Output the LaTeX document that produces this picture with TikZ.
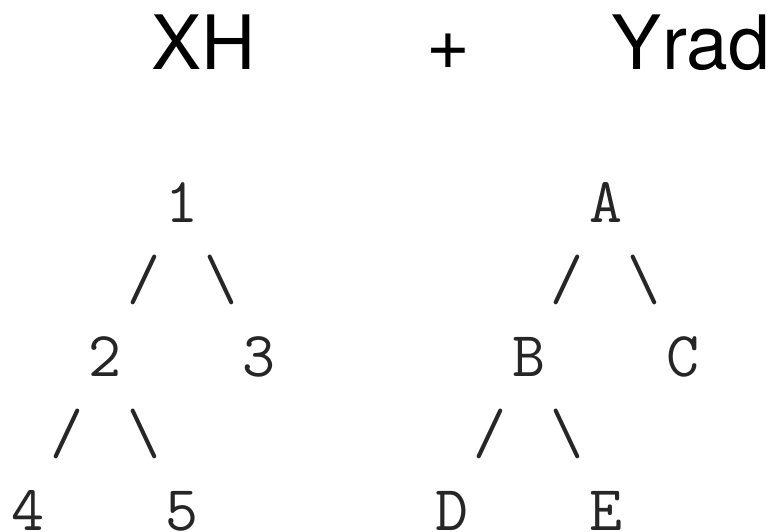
\documentclass[tikz,border=0pt]{standalone}
\usepackage{fontspec}
\setmainfont{TeX Gyre Heros}
\usetikzlibrary{matrix}
\definecolor{treeink}{RGB}{38,38,38}
\newcommand{\treebs}{\textbackslash}

\begin{document}
\begin{tikzpicture}[x=1pt,y=-1pt]
  \useasboundingbox (0,0) rectangle (771,532);
  \tikzset{head/.style={anchor=base, inner sep=0pt, font=\fontsize{75}{80}\selectfont}}

  % the sum written on top
  \node[head] (xh)   at (204,70) {XH};
  \node[head] (plus) at (448,70) {+};
  \node[head] (yrad) at (691,70) {Yrad};

  % both trees, one character per cell
  \matrix (mat) at (8.75,174) [%
    matrix of nodes, nodes in empty cells,
    anchor=north west, inner sep=0pt, outer sep=0pt,
    nodes={inner sep=0pt, minimum width=38.5pt, text height=48pt, text depth=29pt,
           font=\ttfamily\fontsize{64}{77}\selectfont, text=treeink}
  ]
  {%
      &   &   &   & 1 &   &   &   &   &   &   &   &   &   &   & A &   &   \\
      &   &   & / &   & \treebs &   &   &   &   &   &   &   &   & / &   & \treebs &   \\
      &   & 2 &   &   &   & 3 &   &   &   &   &   &   & B &   &   &   & C \\
      & / &   & \treebs &   &   &   &   &   &   &   &   & / &   & \treebs &   &   &   \\
    4 &   &   &   & 5 &   &   &   &   &   &   & D &   &   &   & E &   &   \\
  };
\end{tikzpicture}
\end{document}
